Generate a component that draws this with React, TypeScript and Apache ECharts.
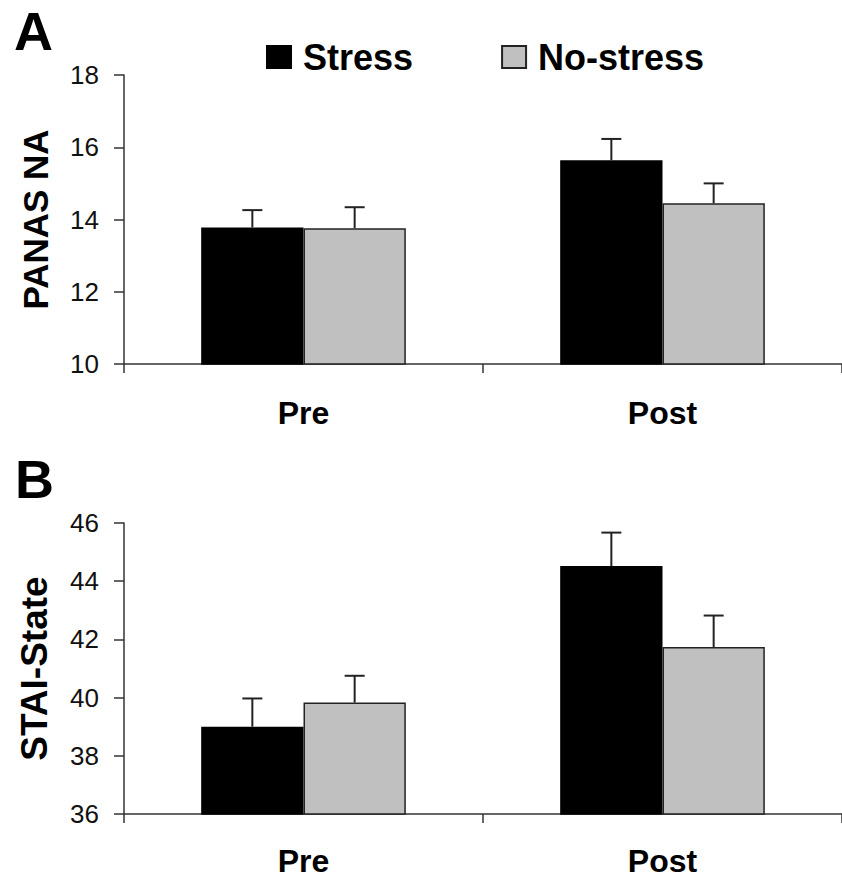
import React, { useEffect, useRef } from "react";
import * as echarts from "echarts";

const categories = ["Pre", "Post"];
const seriesNames = ["Stress", "No-stress"];

// Panel A: PANAS NA
const panasStress = [13.78, 15.64];
const panasStressSE = [0.48, 0.59];
const panasNoStress = [13.76, 14.45];
const panasNoStressSE = [0.58, 0.55];
const panasMin = 10;
const panasMax = 18;

// Panel B: STAI-State
const staiStress = [39.0, 44.52];
const staiStressSE = [0.97, 1.15];
const staiNoStress = [39.83, 41.74];
const staiNoStressSE = [0.92, 1.08];
const staiMin = 36;
const staiMax = 46;

const tickInterval = 2;
const BAR_CATEGORY_GAP = 0.43;
const FONT = "'Liberation Sans', Arial, sans-serif";

function errorData(stress: number[], stressSE: number[], noStress: number[], noStressSE: number[]) {
  const out: number[][] = [];
  categories.forEach((_, i) => {
    out.push([i, stress[i], stressSE[i], 0]);
    out.push([i, noStress[i], noStressSE[i], 1]);
  });
  return out;
}

function renderError(params: any, api: any) {
  const cat = api.value(0);
  const mean = api.value(1);
  const se = api.value(2);
  const g = api.value(3);
  const band = api.size([1, 0])[0];
  const barW = (band * (1 - BAR_CATEGORY_GAP)) / 2;
  const base = api.coord([cat, mean]);
  const top = api.coord([cat, mean + se]);
  const x = base[0] + (g === 0 ? -barW / 2 : barW / 2);
  const style = { stroke: "#222", lineWidth: 2 };
  return {
    type: "group",
    children: [
      { type: "line", shape: { x1: x, y1: base[1], x2: x, y2: top[1] }, style },
      { type: "line", shape: { x1: x - 10, y1: top[1], x2: x + 10, y2: top[1] }, style },
    ],
  };
}

export default function App() {
  const ref = useRef<HTMLDivElement>(null);

  useEffect(() => {
    if (!ref.current) return;
    const chart = echarts.init(ref.current, undefined, { renderer: "svg" });

    const axisColor = "#333";
    const xAxisCommon = {
      type: "category",
      data: categories,
      axisLine: { show: true, lineStyle: { color: axisColor, width: 1.5 } },
      axisTick: { show: true, length: 9, lineStyle: { color: axisColor, width: 1.5 } },
      splitLine: { show: false },
    };
    const xLabel = { fontSize: 32, fontWeight: "bold", color: "#000", fontFamily: FONT };
    const yAxisCommon = {
      type: "value",
      interval: tickInterval,
      axisLine: { show: true, lineStyle: { color: axisColor, width: 1.5 } },
      axisTick: { show: true, length: 10, lineStyle: { color: axisColor, width: 1.5 } },
      axisLabel: { fontSize: 26, color: "#111", margin: 25, fontFamily: FONT },
      splitLine: { show: false },
      nameLocation: "middle",
      nameRotate: 90,
      nameGap: 71,
    };

    const barCommon = {
      type: "bar",
      barGap: "0%",
      barCategoryGap: BAR_CATEGORY_GAP * 100 + "%",
    };
    const stressStyle = { color: "#000", borderColor: "#000", borderWidth: 1.5 };
    const noStressStyle = { color: "#c0c0c0", borderColor: "#222", borderWidth: 1.5 };

    chart.setOption({
      animation: false,
      backgroundColor: "#fff",
      textStyle: { fontFamily: FONT },
      legend: {
        data: seriesNames,
        left: 266,
        top: 39,
        padding: 0,
        itemWidth: 24,
        itemHeight: 22,
        itemGap: 88,
        icon: "rect",
        textStyle: { fontSize: 36, fontWeight: "bold", color: "#000", fontFamily: FONT, padding: [0, 0, 0, 7] },
      },
      graphic: [
        {
          type: "text",
          left: 14,
          top: 4,
          style: { text: "A", fontSize: 54, fontWeight: "bold", fill: "#000", font: "bold 54px " + FONT },
        },
        {
          type: "text",
          left: 15,
          top: 452,
          style: { text: "B", fontSize: 54, fontWeight: "bold", fill: "#000", font: "bold 54px " + FONT },
        },
      ],
      grid: [
        { left: 124, top: 75, width: 724, height: 289 },
        { left: 124, top: 523, width: 724, height: 291 },
      ],
      xAxis: [
        { ...xAxisCommon, gridIndex: 0, axisLabel: { ...xLabel, margin: 33 } },
        { ...xAxisCommon, gridIndex: 1, axisLabel: { ...xLabel, margin: 31 } },
      ],
      yAxis: [
        {
          ...yAxisCommon,
          gridIndex: 0,
          min: panasMin,
          max: panasMax,
          name: "PANAS NA",
          nameTextStyle: { fontSize: 35, fontWeight: "bold", color: "#000", fontFamily: FONT },
        },
        {
          ...yAxisCommon,
          gridIndex: 1,
          min: staiMin,
          max: staiMax,
          name: "STAI-State",
          nameTextStyle: { fontSize: 37, fontWeight: "bold", color: "#000", fontFamily: FONT },
        },
      ],
      series: [
        { ...barCommon, name: seriesNames[0], xAxisIndex: 0, yAxisIndex: 0, data: panasStress, itemStyle: stressStyle },
        { ...barCommon, name: seriesNames[1], xAxisIndex: 0, yAxisIndex: 0, data: panasNoStress, itemStyle: noStressStyle },
        { ...barCommon, name: seriesNames[0], xAxisIndex: 1, yAxisIndex: 1, data: staiStress, itemStyle: stressStyle },
        { ...barCommon, name: seriesNames[1], xAxisIndex: 1, yAxisIndex: 1, data: staiNoStress, itemStyle: noStressStyle },
        {
          type: "custom",
          name: "errA",
          xAxisIndex: 0,
          yAxisIndex: 0,
          z: 5,
          renderItem: renderError,
          encode: { x: 0, y: 1 },
          data: errorData(panasStress, panasStressSE, panasNoStress, panasNoStressSE),
        },
        {
          type: "custom",
          name: "errB",
          xAxisIndex: 1,
          yAxisIndex: 1,
          z: 5,
          renderItem: renderError,
          encode: { x: 0, y: 1 },
          data: errorData(staiStress, staiStressSE, staiNoStress, staiNoStressSE),
        },
      ],
    });

    return () => chart.dispose();
  }, []);

  return (
    <div
      ref={ref}
      style={{ position: "absolute", left: 0, top: 0, width: 842, height: 880, background: "#fff" }}
    />
  );
}
